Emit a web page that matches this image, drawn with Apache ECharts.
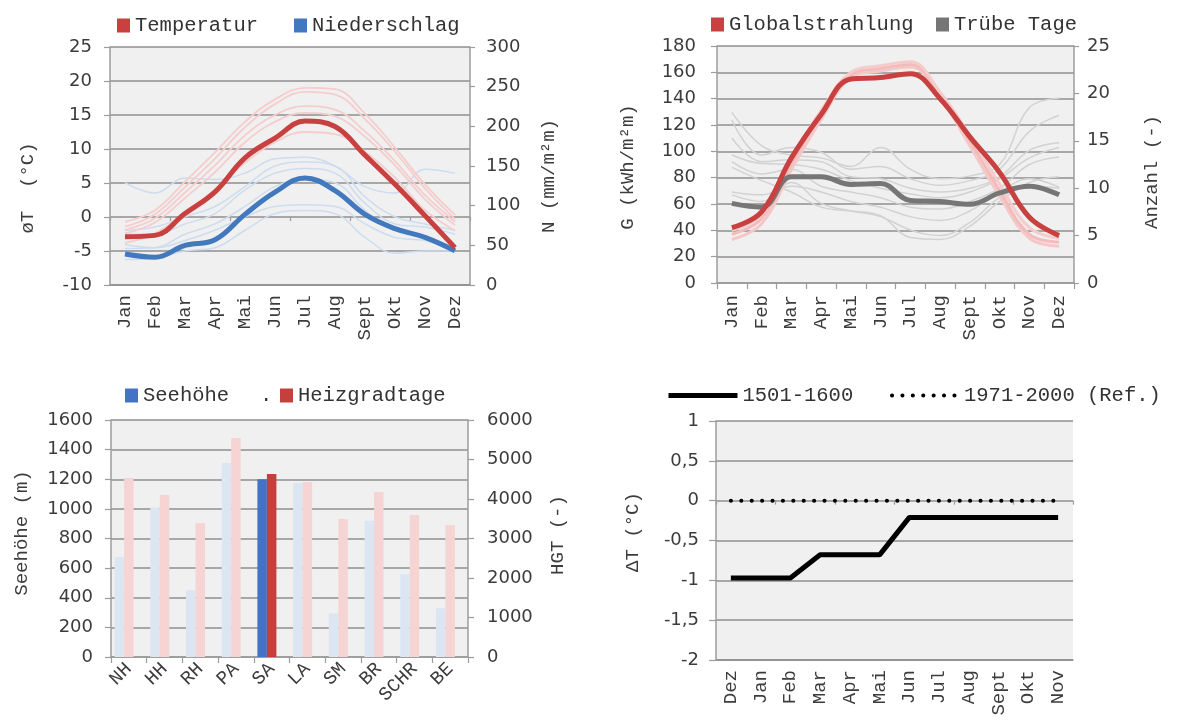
<!DOCTYPE html>
<html>
<head>
<meta charset="utf-8">
<script src="https://cdn.jsdelivr.net/npm/echarts@6/dist/echarts.min.js"></script>
<style>
  html, body { margin: 0; padding: 0; background: #ffffff; }
  #chart { width: 1184px; height: 720px; }
</style>
</head>
<body>
<div id="chart"></div>
<script>
// ---- categories ----
const months = ['Jan', 'Feb', 'Mar', 'Apr', 'Mai', 'Jun', 'Jul', 'Aug', 'Sept', 'Okt', 'Nov', 'Dez'];
const monthsFromDez = ['Dez', 'Jan', 'Feb', 'Mar', 'Apr', 'Mai', 'Jun', 'Jul', 'Aug', 'Sept', 'Okt', 'Nov'];
const stations = ['NH', 'HH', 'RH', 'PA', 'SA', 'LA', 'SM', 'BR', 'SCHR', 'BE'];
const highlightStation = 'SA';

// ---- panel 1: temperature (°C) and precipitation (mm/m²m) ----
const temperatur = [-2.9, -2.7, 0.5, 3.7, 8.7, 11.6, 14.1, 13.3, 9.1, 4.8, 0.2, -4.5];
const niederschlag = [39, 35, 50, 57, 89, 117, 135, 119, 89, 71, 60, 43];
const temperaturOther1 = [-0.7, 1.0, 5.2, 9.5, 14.0, 17.3, 19.0, 18.8, 15.2, 10.2, 4.8, 0.3];
const temperaturOther2 = [-1.4, 0.4, 4.4, 8.6, 13.2, 16.6, 18.4, 18.0, 14.4, 9.6, 4.2, -0.3];
const temperaturOther3 = [-1.9, -0.2, 3.6, 7.6, 12.0, 15.0, 16.3, 15.8, 12.6, 8.2, 3.2, -0.7];
const temperaturOther4 = [-2.4, -0.8, 2.8, 6.6, 11.0, 14.0, 15.3, 14.8, 11.8, 7.6, 2.6, -1.2];
const temperaturOther5 = [-3.8, -2.4, 0.6, 4.0, 8.0, 11.0, 12.5, 12.2, 9.6, 5.8, 1.0, -2.0];
const niederschlagOther1 = [129, 116, 135, 133, 141, 159, 161, 150, 124, 116, 146, 141];
const niederschlagOther2 = [69, 73, 86, 99, 124, 150, 155, 150, 111, 86, 77, 69];
const niederschlagOther3 = [64, 64, 77, 90, 120, 141, 147, 141, 103, 77, 73, 64];
const niederschlagOther4 = [46, 47, 64, 77, 99, 124, 133, 129, 94, 69, 60, 47];
const niederschlagOther5 = [51, 47, 56, 69, 86, 99, 101, 99, 77, 60, 56, 43];
const niederschlagOther6 = [32, 34, 43, 47, 69, 90, 94, 90, 60, 40, 43, 43];

// ---- panel 2: global radiation (kWh/m²m) and overcast days ----
const globalstrahlung = [42, 54, 95, 128, 155, 156, 159, 140, 111, 84, 50, 36];
const globalOther1 = [33, 45, 86, 124, 156, 161, 164, 141, 104, 66, 34, 28];
const globalOther2 = [37, 49, 90, 128, 158, 163, 166, 143, 108, 70, 37, 31];
const globalOther3 = [40, 52, 95, 131, 160, 165, 168, 145, 112, 75, 42, 34];
const truebeTage = [8.4, 8.0, 11.2, 11.2, 10.4, 10.5, 8.7, 8.6, 8.3, 9.5, 10.2, 9.3];
const truebeOther1 = [18.0, 14.5, 13.5, 13.2, 12.3, 14.3, 12.0, 11.0, 11.3, 12.5, 18.5, 19.5];
const truebeOther2 = [17.2, 13.5, 14.3, 13.8, 12.0, 12.3, 11.0, 10.3, 10.8, 12.0, 16.0, 17.7];
const truebeOther3 = [15.3, 12.8, 13.0, 12.8, 11.2, 11.0, 10.0, 9.6, 10.0, 11.2, 14.0, 14.8];
const truebeOther4 = [13.5, 12.6, 12.5, 12.0, 10.8, 10.0, 9.4, 9.0, 9.6, 11.0, 13.2, 14.3];
const truebeOther5 = [12.8, 11.5, 12.0, 10.2, 9.6, 9.0, 8.0, 7.8, 8.6, 10.0, 12.5, 13.3];
const truebeOther6 = [9.6, 9.3, 10.2, 9.6, 8.6, 8.0, 7.0, 6.6, 7.6, 9.6, 11.0, 10.1];
const truebeOther7 = [9.3, 8.6, 10.6, 8.4, 7.6, 7.0, 5.6, 5.0, 6.4, 9.0, 10.2, 10.0];
const truebeOther8 = [12.2, 10.8, 9.6, 8.0, 7.6, 7.1, 4.8, 4.6, 6.0, 8.6, 10.6, 11.2];

// ---- panel 3: altitude (m) and heating degree days ----
const seehoehe = [675, 1010, 450, 1310, 1200, 1175, 295, 920, 560, 330];
const heizgradtage = [4530, 4100, 3390, 5545, 4630, 4430, 3495, 4180, 3595, 3340];
const spacer = [null, null, null, null, null, null, null, null, null, null];

// ---- panel 4: temperature difference (°C) ----
const dT1501 = [-0.97, -0.97, -0.97, -0.68, -0.68, -0.68, -0.21, -0.21, -0.21, -0.21, -0.21, -0.21];
const dTRef = [0, 0, 0, 0, 0, 0, 0, 0, 0, 0, 0, 0];

// ---- tick range of the ΔT axis ----
const yTicksPanel4 = { min: -2, max: 1, step: 0.5 };

// ---- styles ----
const MONO = '"Liberation Mono", "DejaVu Sans Mono", monospace';
const SANS = '"DejaVu Sans", Verdana, sans-serif';
const TEXT = '#3c3c3c';
const GRID = '#8f8f8f';
const AXIS = '#9c9c9c';
const PLOT_BG = '#f0f0f0';

const RED = '#c8403f';
const BLUE = '#4178be';
const GRAY = '#767676';
const RED_FAINT = '#f5cdcd';
const BLUE_FAINT = '#cddcef';
const GRAY_FAINT = '#d2d2d2';
const BAR_BLUE = '#4472c4';
const BAR_BLUE_LIGHT = '#dce6f3';
const BAR_RED = '#c4403c';
const BAR_RED_LIGHT = '#f6d4d4';

const SOLID_BLACK = { color: '#000000', width: 5 };
const DOTTED_BLACK = { color: '#000000', width: 4, type: [0.1, 10.3], cap: 'round' };

function xLabels(margin, rotate) {
  return { rotate: rotate, margin: margin, fontFamily: MONO, fontSize: 19, color: TEXT, interval: 0 };
}
function yLabels(margin, formatter) {
  return { margin: margin, fontFamily: SANS, fontSize: 18, color: TEXT,
           formatter: formatter || (v => String(v)) };
}
const axisLineStyle = { show: true, lineStyle: { color: AXIS, width: 1.5 } };
const tickStyle = (len, inside) => ({ show: true, length: len, inside: !!inside, lineStyle: { color: AXIS, width: 1.2 } });

function faintLine(data, color, width, x, y) {
  return {
    type: 'line', data: data, xAxisIndex: x, yAxisIndex: y, smooth: 0.4,
    symbol: 'none', silent: true, z: 1,
    lineStyle: { color: color, width: width }
  };
}
function mainLine(name, data, color, x, y) {
  return {
    name: name, type: 'line', data: data, xAxisIndex: x, yAxisIndex: y, smooth: 0.4,
    symbol: 'none', silent: true, z: 3,
    itemStyle: { color: color },
    lineStyle: { color: color, width: 5 }
  };
}

function rotText(text, x, y) {
  return {
    type: 'text', x: x, y: y, rotation: Math.PI / 2, silent: true,
    style: {
      text: text, x: 0, y: 0, fill: TEXT,
      font: '19px ' + MONO,
      align: 'center', verticalAlign: 'middle',
      textAlign: 'center', textVerticalAlign: 'middle'
    }
  };
}

const legendBase = {
  padding: 0, itemWidth: 13, itemHeight: 14, icon: 'rect', selectedMode: false,
  textStyle: { fontFamily: MONO, fontSize: 20.5, color: '#333333' }
};
function lineLegend(name, left, width, lineStyle) {
  return {
    data: [name], left: left, top: 385, padding: 0, itemWidth: width, itemHeight: 14,
    selectedMode: false, itemStyle: { opacity: 0 }, lineStyle: lineStyle,
    textStyle: { fontFamily: MONO, fontSize: 20.5, color: '#333333' }
  };
}

const option = {
  animation: false,
  backgroundColor: '#ffffff',
  grid: [
    { left: 110, top: 47, width: 360, height: 238, show: true, backgroundColor: PLOT_BG, borderWidth: 0 },
    { left: 717, top: 46, width: 357, height: 237, show: true, backgroundColor: PLOT_BG, borderWidth: 0 },
    { left: 111, top: 420, width: 357, height: 237, show: true, backgroundColor: PLOT_BG, borderWidth: 0 },
    { left: 716, top: 421, width: 357, height: 239, show: true, backgroundColor: PLOT_BG, borderWidth: 0 }
  ],
  legend: [
    Object.assign({}, legendBase, { data: ['Temperatur'], left: 117, top: 15 }),
    Object.assign({}, legendBase, { data: ['Niederschlag'], left: 294, top: 15 }),
    Object.assign({}, legendBase, { data: ['Globalstrahlung'], left: 711, top: 14 }),
    Object.assign({}, legendBase, { data: ['Trübe Tage'], left: 936, top: 14 }),
    Object.assign({}, legendBase, { data: ['Seehöhe'], left: 125, top: 385 }),
    Object.assign({}, legendBase, { data: ['.'], left: 242, top: 385 }),
    Object.assign({}, legendBase, { data: ['Heizgradtage'], left: 280, top: 385 }),
    lineLegend('1501-1600', 666, 69, SOLID_BLACK),
    lineLegend('1971-2000 (Ref.)', 890, 67, DOTTED_BLACK)
  ],
  xAxis: [
    { gridIndex: 0, type: 'category', data: months, position: 'bottom',
      axisLine: { show: true, onZero: false, lineStyle: { color: GRID, width: 1.5 } },
      axisTick: { show: false }, axisLabel: xLabels(10, 90), splitLine: { show: false } },
    { gridIndex: 0, type: 'category', data: months, position: 'top',
      axisLine: { show: false, onZero: true, onZeroAxisIndex: 0 },
      axisTick: tickStyle(4, true), axisLabel: { show: false }, splitLine: { show: false } },
    { gridIndex: 1, type: 'category', data: months, position: 'bottom',
      axisLine: { show: true, onZero: false, lineStyle: { color: AXIS, width: 1.5 } },
      axisTick: tickStyle(6), axisLabel: xLabels(12, 90), splitLine: { show: false } },
    { gridIndex: 2, type: 'category', data: stations, position: 'bottom',
      axisLine: { show: true, onZero: false, lineStyle: { color: AXIS, width: 1.5 } },
      axisTick: tickStyle(6), axisLabel: xLabels(9, 45), splitLine: { show: false } },
    { gridIndex: 3, type: 'category', data: monthsFromDez, position: 'bottom',
      axisLine: { show: true, onZero: false, lineStyle: { color: GRID, width: 1.5 } },
      axisTick: { show: false }, axisLabel: xLabels(10, 90), splitLine: { show: false } },
    { gridIndex: 3, type: 'category', data: monthsFromDez, position: 'top',
      axisLine: { show: false, onZero: true },
      axisTick: tickStyle(4, true), axisLabel: { show: false }, splitLine: { show: false } }
  ],
  yAxis: [
    { gridIndex: 0, type: 'value', position: 'left', min: -10, max: 25, interval: 5,
      axisLine: axisLineStyle, axisTick: tickStyle(6), axisLabel: yLabels(18),
      splitLine: { show: true, lineStyle: { color: GRID, width: 1.5 } } },
    { gridIndex: 0, type: 'value', position: 'right', min: 0, max: 300, interval: 50,
      axisLine: axisLineStyle, axisTick: tickStyle(5), axisLabel: yLabels(16),
      splitLine: { show: false } },
    { gridIndex: 1, type: 'value', position: 'left', min: 0, max: 180, interval: 20,
      axisLine: axisLineStyle, axisTick: tickStyle(6), axisLabel: yLabels(21),
      splitLine: { show: true, lineStyle: { color: GRID, width: 1.5 } } },
    { gridIndex: 1, type: 'value', position: 'right', min: 0, max: 25, interval: 5,
      axisLine: axisLineStyle, axisTick: tickStyle(5), axisLabel: yLabels(13),
      splitLine: { show: false } },
    { gridIndex: 2, type: 'value', position: 'left', min: 0, max: 1600, interval: 200,
      axisLine: axisLineStyle, axisTick: tickStyle(6), axisLabel: yLabels(18),
      splitLine: { show: true, lineStyle: { color: GRID, width: 1.5 } } },
    { gridIndex: 2, type: 'value', position: 'right', min: 0, max: 6000, interval: 1000,
      axisLine: axisLineStyle, axisTick: tickStyle(6), axisLabel: yLabels(19),
      splitLine: { show: false } },
    { gridIndex: 3, type: 'value', position: 'left',
      min: yTicksPanel4.min, max: yTicksPanel4.max, interval: yTicksPanel4.step,
      axisLine: axisLineStyle, axisTick: tickStyle(7),
      axisLabel: yLabels(17, v => String(v).replace('.', ',')),
      splitLine: { show: true, lineStyle: { color: GRID, width: 1.5 } } }
  ],
  graphic: [
    rotText('øT  (°C)', 28, 188),
    rotText('N (mm/m²m)', 549, 176),
    rotText('G (kWh/m²m)', 628, 167),
    rotText('Anzahl (-)', 1152, 172),
    rotText('Seehöhe (m)', 22, 533),
    rotText('HGT (-)', 558, 535),
    rotText('ΔT (°C)', 633, 532)
  ],
  series: [
    // panel 1: other stations, then the highlighted station
    faintLine(niederschlagOther1, BLUE_FAINT, 1.5, 0, 1),
    faintLine(niederschlagOther2, BLUE_FAINT, 1.5, 0, 1),
    faintLine(niederschlagOther3, BLUE_FAINT, 1.5, 0, 1),
    faintLine(niederschlagOther4, BLUE_FAINT, 1.5, 0, 1),
    faintLine(niederschlagOther5, BLUE_FAINT, 1.5, 0, 1),
    faintLine(niederschlagOther6, BLUE_FAINT, 1.5, 0, 1),
    faintLine(temperaturOther1, RED_FAINT, 1.8, 0, 0),
    faintLine(temperaturOther2, RED_FAINT, 1.8, 0, 0),
    faintLine(temperaturOther3, RED_FAINT, 1.8, 0, 0),
    faintLine(temperaturOther4, RED_FAINT, 1.8, 0, 0),
    faintLine(temperaturOther5, RED_FAINT, 1.8, 0, 0),
    mainLine('Niederschlag', niederschlag, BLUE, 0, 1),
    mainLine('Temperatur', temperatur, RED, 0, 0),

    // panel 2
    faintLine(truebeOther1, GRAY_FAINT, 1.5, 2, 3),
    faintLine(truebeOther2, GRAY_FAINT, 1.5, 2, 3),
    faintLine(truebeOther3, GRAY_FAINT, 1.5, 2, 3),
    faintLine(truebeOther4, GRAY_FAINT, 1.5, 2, 3),
    faintLine(truebeOther5, GRAY_FAINT, 1.5, 2, 3),
    faintLine(truebeOther6, GRAY_FAINT, 1.5, 2, 3),
    faintLine(truebeOther7, GRAY_FAINT, 1.5, 2, 3),
    faintLine(truebeOther8, GRAY_FAINT, 1.5, 2, 3),
    faintLine(globalOther1, '#f5c8c8', 3, 2, 2),
    faintLine(globalOther2, '#f2bcbc', 3, 2, 2),
    faintLine(globalOther3, '#f5cccc', 3, 2, 2),
    mainLine('Trübe Tage', truebeTage, GRAY, 2, 3),
    mainLine('Globalstrahlung', globalstrahlung, RED, 2, 2),

    // panel 3
    {
      name: 'Seehöhe', type: 'bar', xAxisIndex: 3, yAxisIndex: 4, silent: true,
      barWidth: 9.5, barGap: '0%',
      itemStyle: { color: BAR_BLUE },
      data: seehoehe.map((v, i) => ({
        value: v,
        itemStyle: { color: stations[i] === highlightStation ? BAR_BLUE : BAR_BLUE_LIGHT }
      }))
    },
    {
      name: 'Heizgradtage', type: 'bar', xAxisIndex: 3, yAxisIndex: 5, silent: true,
      barWidth: 9.5, barGap: '0%',
      itemStyle: { color: BAR_RED },
      data: heizgradtage.map((v, i) => ({
        value: v,
        itemStyle: { color: stations[i] === highlightStation ? BAR_RED : BAR_RED_LIGHT }
      }))
    },
    {
      name: '.', type: 'bar', xAxisIndex: 3, yAxisIndex: 4, silent: true,
      barWidth: 9.5, barGap: '0%',
      itemStyle: { color: 'rgba(0,0,0,0)' },
      data: spacer
    },

    // panel 4
    {
      name: '1971-2000 (Ref.)', type: 'line', xAxisIndex: 4, yAxisIndex: 6, data: dTRef,
      symbol: 'none', silent: true, z: 3,
      itemStyle: { color: '#000000' },
      lineStyle: DOTTED_BLACK
    },
    {
      name: '1501-1600', type: 'line', xAxisIndex: 4, yAxisIndex: 6, data: dT1501,
      symbol: 'none', silent: true, z: 4,
      itemStyle: { color: '#000000' },
      lineStyle: SOLID_BLACK
    }
  ]
};

const chart = echarts.init(document.getElementById('chart'), null, { renderer: 'canvas' });
chart.setOption(option);
</script>
</body>
</html>
